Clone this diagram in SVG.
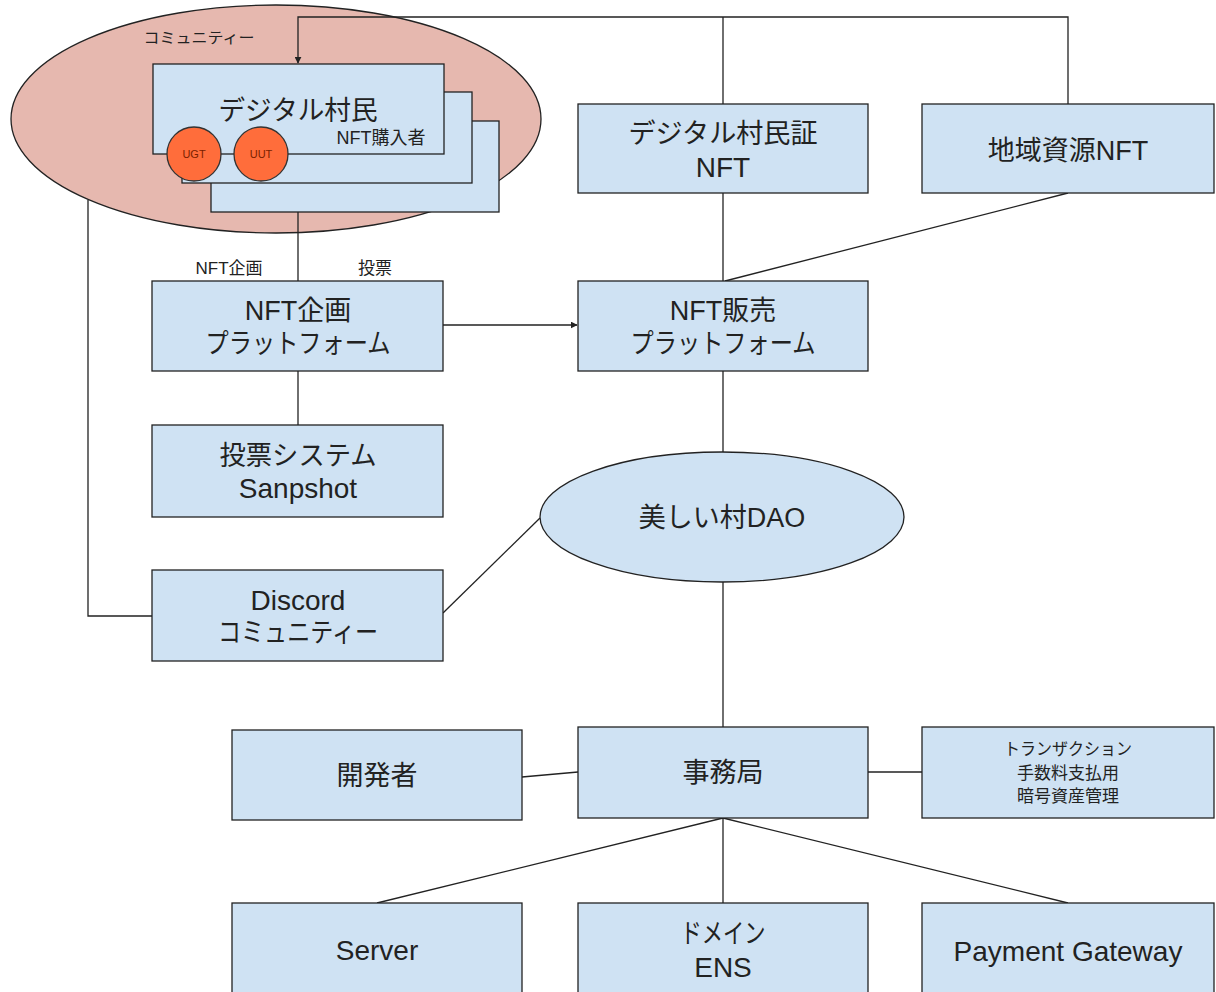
<svg xmlns="http://www.w3.org/2000/svg" width="1216" height="992" viewBox="0 0 1216 992">
<style>
  .box { fill: #cfe2f3; stroke: #222; stroke-width: 1.3; }
  .ln { fill: none; stroke: #222; stroke-width: 1.3; }
  text { font-family: "Liberation Sans", "Noto Sans CJK JP", sans-serif; fill: #222; text-anchor: middle; }
  .t { font-size: 27px; }
  .tl { font-size: 28px; }
  .s { font-size: 17px; }
  .c { fill: #ff6d3b; stroke: #333; stroke-width: 1.3; }
  .ct { font-size: 11px; fill: #7a1f00; }
</style>
<defs>
  <marker id="arr" viewBox="0 0 10 10" refX="9" refY="5" markerWidth="7" markerHeight="7" orient="auto" markerUnits="userSpaceOnUse">
    <path d="M0,0 L10,5 L0,10 z" fill="#222"/>
  </marker>
</defs>
<rect width="1216" height="992" fill="#ffffff"/>

<g id="community">
  <ellipse cx="276" cy="119" rx="265" ry="114" fill="#e6b8af" stroke="#222" stroke-width="1.3"/>
  <text x="199" y="43" style="font-size:15px" textLength="111" lengthAdjust="spacingAndGlyphs">コミュニティー</text>
</g>

<g id="connectors">
  <polyline class="ln" points="1068,104 1068,17 298,17 298,63" marker-end="url(#arr)"/>
  <line class="ln" x1="723" y1="17" x2="723" y2="104"/>
  <polyline class="ln" points="88,200 88,616 152,616"/>
  <line class="ln" x1="298" y1="212" x2="298" y2="281"/>
  <line class="ln" x1="723" y1="193" x2="723" y2="281"/>
  <line class="ln" x1="1068" y1="193" x2="725" y2="281"/>
  <line class="ln" x1="443" y1="325" x2="577" y2="325" marker-end="url(#arr)"/>
  <line class="ln" x1="298" y1="371" x2="298" y2="425"/>
  <line class="ln" x1="723" y1="371" x2="723" y2="452"/>
  <line class="ln" x1="443" y1="613" x2="540" y2="518"/>
  <line class="ln" x1="723" y1="582" x2="723" y2="727"/>
  <line class="ln" x1="522" y1="777" x2="578" y2="772"/>
  <line class="ln" x1="868" y1="772" x2="922" y2="772"/>
  <line class="ln" x1="723" y1="818" x2="377" y2="903"/>
  <line class="ln" x1="723" y1="818" x2="723" y2="903"/>
  <line class="ln" x1="723" y1="818" x2="1068" y2="903"/>
</g>

<g id="digital-villager">
  <rect class="box" x="211" y="121" width="288" height="91"/>
  <rect class="box" x="182" y="92" width="290" height="91"/>
  <rect class="box" x="153" y="64" width="291" height="90"/>
  <text class="t" x="298" y="120" textLength="159" lengthAdjust="spacingAndGlyphs">デジタル村民</text>
  <text x="381" y="144" style="font-size:18px">NFT購入者</text>
</g>

<g id="ugt">
  <circle class="c" cx="194" cy="154" r="27"/>
  <text class="ct" x="194" y="158">UGT</text>
</g>
<g id="uut">
  <circle class="c" cx="261" cy="154" r="27"/>
  <text class="ct" x="261" y="158">UUT</text>
</g>

<g id="labels">
  <text x="229" y="274" style="font-size:17px">NFT企画</text>
  <text x="375" y="274" style="font-size:17px">投票</text>
</g>

<g id="villager-nft">
  <rect class="box" x="578" y="104" width="290" height="89"/>
  <text class="t" x="723" y="143" textLength="189" lengthAdjust="spacingAndGlyphs">デジタル村民証</text>
  <text class="tl" x="723" y="177">NFT</text>
</g>

<g id="local-nft">
  <rect class="box" x="922" y="104" width="292" height="89"/>
  <text class="t" x="1068" y="160">地域資源NFT</text>
</g>

<g id="nft-planning">
  <rect class="box" x="152" y="281" width="291" height="90"/>
  <text class="t" x="298" y="320">NFT企画</text>
  <text class="t" x="298" y="353" textLength="185" lengthAdjust="spacingAndGlyphs">プラットフォーム</text>
</g>

<g id="nft-sales">
  <rect class="box" x="578" y="281" width="290" height="90"/>
  <text class="t" x="723" y="320">NFT販売</text>
  <text class="t" x="723" y="353" textLength="185" lengthAdjust="spacingAndGlyphs">プラットフォーム</text>
</g>

<g id="voting">
  <rect class="box" x="152" y="425" width="291" height="92"/>
  <text class="t" x="298" y="465" textLength="157" lengthAdjust="spacingAndGlyphs">投票システム</text>
  <text class="tl" x="298" y="498">Sanpshot</text>
</g>

<g id="dao">
  <ellipse cx="722" cy="517" rx="182" ry="65" fill="#cfe2f3" stroke="#222" stroke-width="1.3"/>
  <text class="t" x="722" y="527">美しい村DAO</text>
</g>

<g id="discord">
  <rect class="box" x="152" y="570" width="291" height="91"/>
  <text class="tl" x="298" y="610">Discord</text>
  <text class="t" x="298" y="642" textLength="160" lengthAdjust="spacingAndGlyphs">コミュニティー</text>
</g>

<g id="developer">
  <rect class="box" x="232" y="730" width="290" height="90"/>
  <text class="t" x="377" y="785">開発者</text>
</g>

<g id="secretariat">
  <rect class="box" x="578" y="727" width="290" height="91"/>
  <text class="t" x="723" y="782">事務局</text>
</g>

<g id="crypto">
  <rect class="box" x="922" y="727" width="292" height="91"/>
  <text class="s" x="1068" y="755" textLength="128" lengthAdjust="spacingAndGlyphs">トランザクション</text>
  <text class="s" x="1068" y="779">手数料支払用</text>
  <text class="s" x="1068" y="802">暗号資産管理</text>
</g>

<g id="server">
  <rect class="box" x="232" y="903" width="290" height="100"/>
  <text class="tl" x="377" y="960">Server</text>
</g>

<g id="domain">
  <rect class="box" x="578" y="903" width="290" height="100"/>
  <text class="t" x="723" y="943" textLength="85" lengthAdjust="spacingAndGlyphs">ドメイン</text>
  <text class="tl" x="723" y="977">ENS</text>
</g>

<g id="payment">
  <rect class="box" x="922" y="903" width="292" height="100"/>
  <text class="tl" x="1068" y="961">Payment Gateway</text>
</g>
</svg>
